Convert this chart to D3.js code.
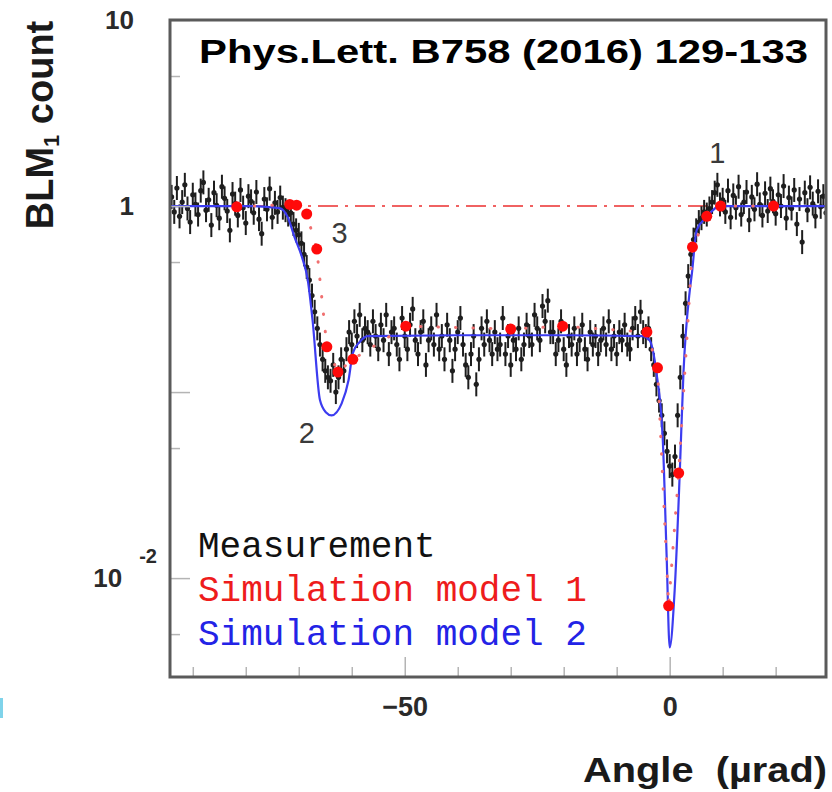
<!DOCTYPE html>
<html>
<head>
<meta charset="utf-8">
<script src="https://cdn.jsdelivr.net/npm/d3@7"></script>
<style>
  body { margin: 0; background: #fff; }
  svg { display: block; }
</style>
</head>
<body>
<div id="chart"></div>
<script>
// ---- values ----

// measurement: BLM1 count sampled every 0.5 urad from -94 urad
const measStart = -94;
const measStep = 0.5;
const measCount = [
  // -94 .. -73.5
  1.12,0.93,1.25,0.88,1.05,1.30,0.97,0.82,1.15,1.02,
  0.90,1.21,1.34,0.95,1.08,0.79,1.18,1.01,0.86,1.27,
  1.10,0.94,0.74,1.16,1.03,0.89,1.22,0.98,0.81,1.13,
  1.06,0.92,1.19,0.85,0.71,1.09,0.96,1.24,0.87,1.04,
  0.93,1.11,
  // -73 .. -57.5
  0.98,0.95,0.90,0.92,0.80,0.74,0.70,0.63,0.55,0.47,
  0.40,0.33,0.27,0.22,0.18,0.15,0.13,0.12,0.115,0.14,
  0.10,0.12,0.15,0.13,0.17,0.21,0.18,0.24,0.20,0.26,
  0.19,0.22,
  // -57 .. -5.5
  0.21,0.18,0.24,0.20,0.17,0.23,0.19,0.26,0.16,0.21,
  0.22,0.18,0.15,0.25,0.20,0.17,0.23,0.28,0.19,0.16,
  0.21,0.24,0.14,0.19,0.22,0.18,0.26,0.17,0.20,0.15,
  0.23,0.19,0.13,0.17,0.21,0.25,0.18,0.14,0.12,0.16,
  0.20,0.11,0.15,0.22,0.18,0.24,0.19,0.16,0.21,0.17,
  0.18,0.25,0.16,0.20,0.14,0.19,0.17,0.22,0.15,0.18,
  0.23,0.20,0.18,0.26,0.22,0.19,0.29,0.24,0.31,0.21,
  0.21,0.16,0.19,0.24,0.17,0.14,0.20,0.18,0.22,0.16,
  0.19,0.23,0.17,0.15,0.21,0.18,0.20,0.16,0.19,0.22,
  0.18,0.24,0.17,0.20,0.16,0.21,0.19,0.23,0.18,0.17,
  0.22,0.25,0.20,0.27,
  // -5 .. 9.5
  0.21,0.20,0.22,0.17,0.14,0.11,0.09,0.075,0.06,0.048,
  0.04,0.036,0.045,0.075,0.12,0.20,0.30,0.42,0.55,0.66,
  0.74,0.82,0.86,0.93,0.90,0.97,1.05,1.18,1.30,1.02,
  // 10 .. 29.5
  1.08,0.93,1.21,0.87,1.14,0.98,1.27,0.90,1.05,1.19,
  0.84,1.12,0.96,1.31,1.02,0.89,1.17,0.94,1.24,1.06,
  0.91,1.15,1.00,1.28,0.86,1.11,0.97,1.22,0.80,1.09,
  0.64,1.18,0.95,1.26,1.03,0.88,1.20,0.99,1.13,0.92
];
const measRelErr = 0.16;

// simulation model 1 (red points, dotted)
const model1Angle = [-81.7,-71.7,-70.4,-68.5,-66.6,-64.7,-62.6,-59.8,-49.8,-30.0,-20.2,-4.3,-2.3,-0.2,1.7,4.3,7.0,9.6,19.6];
const model1Count = [0.99,1.02,1.01,0.906,0.587,0.175,0.128,0.150,0.226,0.218,0.226,0.210,0.135,0.0071,0.0367,0.602,0.88,1.0,1.0];

// simulation model 2 (blue curve)
const model2Angle = [-94.3,-80,-73.6,-72.1,-70.8,-69.4,-68.3,-67.4,-66.0,-64.9,-63.8,-61.9,-60.6,-59.8,-58.5,-57.0,-40,-20,-5.1,-3.8,-2.5,-1.3,-0.57,0,0.94,1.9,2.6,3.8,4.2,5.1,7.0,9.4,20,29.5];
const model2Count = [1.0,1.0,0.975,0.873,0.681,0.532,0.400,0.244,0.0906,0.078,0.075,0.087,0.116,0.162,0.186,0.200,0.202,0.202,0.200,0.190,0.127,0.0552,0.0130,0.00424,0.0086,0.0367,0.127,0.353,0.436,0.743,0.873,1.0,1.0,1.0];

// reference level (dash-dot)
const refLevel = 1;

// axes
const xDomain = [-94.3, 29.5];
const yDomain = [10, 0.00294];
const xTicks = [-90,-80,-70,-60,-50,-40,-30,-20,-10,0,10,20];
const xLabelTicks = [-50, 0];
const yMajorTicks = [10, 1, 0.1, 0.01];
const yMinorTicks = [5, 0.5, 0.05, 0.005];
const yLabelValues = [10, 1, 0.01];
const yLabelBase = ["10", "1", "10"];
const yLabelSup = ["", "", "-2"];

// region labels
const annoText = ["1", "2", "3"];
const annoAngle = [9.0, -68.5, -62.3];
const annoCount = [1.70, 0.053, 0.633];

const legendText = ["Measurement", "Simulation model 1", "Simulation model 2"];
const legendColor = ["#111", "#ee1c1c", "#2323e6"];

// ---- layout ----
const W = 832, H = 792;
const margin = { top: 20, left: 170, right: 6, bottom: 115 };
const width = W - margin.left - margin.right;
const height = H - margin.top - margin.bottom;

const svg = d3.select("#chart").append("svg")
  .attr("width", W)
  .attr("height", H);

const g = svg.append("g")
  .attr("transform", `translate(${margin.left},${margin.top})`);

const x = d3.scaleLinear().domain(xDomain).range([0, width]);
const y = d3.scaleLog().domain(yDomain).range([0, height]);

// small cyan mark at the left edge of the screenshot
svg.append("rect")
  .attr("x", 0).attr("y", 698).attr("width", 3).attr("height", 20)
  .attr("fill", "#7fd3ea");

// clip to plot area
g.append("clipPath").attr("id", "plotclip")
  .append("rect").attr("width", width).attr("height", height);

const plot = g.append("g").attr("clip-path", "url(#plotclip)");

// reference line at 1
plot.append("line")
  .attr("x1", 0).attr("x2", width)
  .attr("y1", y(refLevel)).attr("y2", y(refLevel))
  .attr("stroke", "#f06262")
  .attr("stroke-width", 2)
  .attr("stroke-dasharray", "20,7,3,7");

// measurement
const meas = measCount.map((c, i) => ({ angle: measStart + i * measStep, count: c }));

plot.append("g").selectAll("line")
  .data(meas)
  .join("line")
  .attr("x1", d => x(d.angle)).attr("x2", d => x(d.angle))
  .attr("y1", d => y(d.count * (1 + measRelErr)))
  .attr("y2", d => y(d.count / (1 + measRelErr)))
  .attr("stroke", "#1e1e1e")
  .attr("stroke-width", 2);

plot.append("g").selectAll("circle")
  .data(meas)
  .join("circle")
  .attr("cx", d => x(d.angle))
  .attr("cy", d => y(d.count))
  .attr("r", 2.6)
  .attr("fill", "#1e1e1e");

// model 2 curve
const model2 = model2Angle.map((a, i) => ({ angle: a, count: model2Count[i] }));
const line2 = d3.line()
  .x(d => x(d.angle))
  .y(d => y(d.count))
  .curve(d3.curveMonotoneX);

plot.append("path")
  .datum(model2)
  .attr("fill", "none")
  .attr("stroke", "#3c3cf0")
  .attr("stroke-width", 2.2)
  .attr("d", line2);

// model 1 dotted line + points
const model1 = model1Angle.map((a, i) => ({ angle: a, count: model1Count[i] }));
const line1 = d3.line()
  .x(d => x(d.angle))
  .y(d => y(d.count));

plot.append("path")
  .datum(model1)
  .attr("fill", "none")
  .attr("stroke", "#f07070")
  .attr("stroke-width", 3)
  .attr("stroke-linecap", "round")
  .attr("stroke-dasharray", "0.5,17")
  .attr("d", line1);

plot.append("g").selectAll("circle")
  .data(model1)
  .join("circle")
  .attr("cx", d => x(d.angle))
  .attr("cy", d => y(d.count))
  .attr("r", 5.5)
  .attr("fill", "#ff0a0a");

// ---- axes (ticks inside the frame) ----
const yMajorAxis = g.append("g")
  .call(d3.axisLeft(y).tickValues(yMajorTicks).tickSizeInner(-20).tickSizeOuter(0).tickFormat(""));
const yMinorAxis = g.append("g")
  .call(d3.axisLeft(y).tickValues(yMinorTicks).tickSizeInner(-10).tickSizeOuter(0).tickFormat(""));
const xMinorAxis = g.append("g")
  .attr("transform", `translate(0,${height})`)
  .call(d3.axisBottom(x).tickValues(xTicks.filter(t => !xLabelTicks.includes(t)))
    .tickSizeInner(-10).tickSizeOuter(0).tickFormat(""));
const xMajorAxis = g.append("g")
  .attr("transform", `translate(0,${height})`)
  .call(d3.axisBottom(x).tickValues(xLabelTicks)
    .tickSizeInner(-20).tickSizeOuter(0).tickPadding(20).tickFormat(d3.format("d")));

[yMajorAxis, yMinorAxis, xMinorAxis, xMajorAxis].forEach(a => {
  a.select(".domain").remove();
  a.selectAll(".tick line").attr("stroke", "#b4b4b4").attr("stroke-width", 1.5);
});

xMajorAxis.selectAll(".tick text")
  .attr("font-family", "'Liberation Sans', Arial, sans-serif")
  .attr("font-weight", "bold")
  .attr("font-size", 27)
  .attr("fill", "#2a2a2a");

// y tick labels (outside, left)
const yLab = g.append("g");
yLabelValues.forEach((v, i) => {
  const t = yLab.append("text")
    .attr("x", yLabelSup[i] ? -13 : -36)
    .attr("y", y(v))
    .attr("dy", "0.36em")
    .attr("text-anchor", "end")
    .attr("font-family", "'Liberation Sans', Arial, sans-serif")
    .attr("font-weight", "bold")
    .attr("font-size", 26)
    .attr("fill", "#2a2a2a");
  t.append("tspan").text(yLabelBase[i]);
  if (yLabelSup[i]) {
    t.append("tspan")
      .attr("dx", 17)
      .attr("dy", -24)
      .attr("font-size", 20)
      .text(yLabelSup[i]);
  }
});

// frame
g.append("rect")
  .attr("width", width).attr("height", height)
  .attr("fill", "none")
  .attr("stroke", "#5a5a5a")
  .attr("stroke-width", 3);

// region labels 1, 2, 3
g.append("g").selectAll("text")
  .data(annoText)
  .join("text")
  .attr("x", (d, i) => x(annoAngle[i]))
  .attr("y", (d, i) => y(annoCount[i]))
  .attr("text-anchor", "middle")
  .attr("font-family", "'Liberation Sans', Arial, sans-serif")
  .attr("font-size", 29)
  .attr("fill", "#3a3a3a")
  .text(d => d);

// title inside the frame
g.append("text")
  .attr("x", 29)
  .attr("y", 43)
  .attr("font-family", "'Liberation Sans', Arial, sans-serif")
  .attr("font-weight", "bold")
  .attr("font-size", 33)
  .attr("textLength", 609)
  .attr("lengthAdjust", "spacingAndGlyphs")
  .attr("fill", "#000")
  .text("Phys.Lett. B758 (2016) 129-133");

// legend
g.append("g").selectAll("text")
  .data(legendText)
  .join("text")
  .attr("x", 28)
  .attr("y", (d, i) => 537 + i * 44)
  .attr("font-family", "'Liberation Mono', 'Courier New', monospace")
  .attr("font-size", 36)
  .attr("fill", (d, i) => legendColor[i])
  .text(d => d);

// axis titles
const yTitle = svg.append("text")
  .attr("transform", "translate(53,125) rotate(-90)")
  .attr("text-anchor", "middle")
  .attr("font-family", "'Liberation Sans', Arial, sans-serif")
  .attr("font-weight", "bold")
  .attr("font-size", 38)
  .attr("fill", "#1a1a1a");
yTitle.append("tspan").text("BLM");
yTitle.append("tspan").attr("font-size", 22).attr("dy", 6).text("1");
yTitle.append("tspan").attr("dy", -6).text(" count");

svg.append("text")
  .attr("x", 583)
  .attr("y", 782)
  .attr("font-family", "'Liberation Sans', Arial, sans-serif")
  .attr("font-weight", "bold")
  .attr("font-size", 35)
  .attr("textLength", 244)
  .attr("lengthAdjust", "spacingAndGlyphs")
  .attr("fill", "#1a1a1a")
  .attr("xml:space", "preserve")
  .text("Angle  (\u00b5rad)");
</script>
</body>
</html>
